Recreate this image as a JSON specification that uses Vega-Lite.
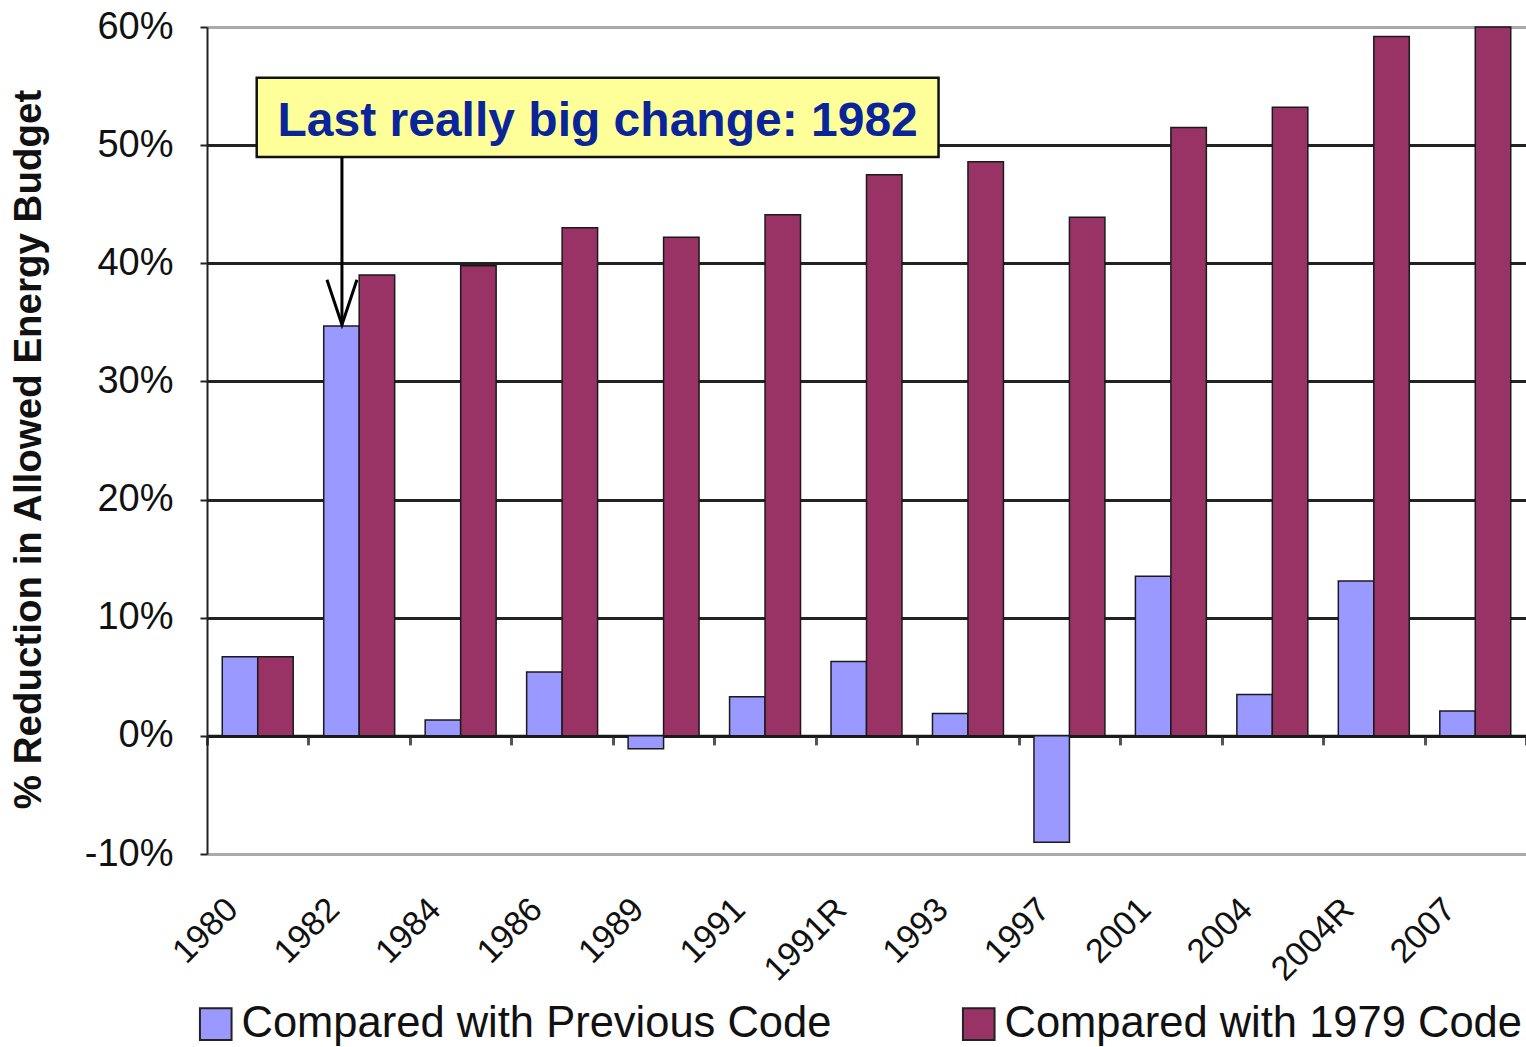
{
  "$schema": "https://vega.github.io/schema/vega-lite/v6.json",
  "width": 1319,
  "height": 827,
  "autosize": "none",
  "padding": {"left": 207, "top": 27, "right": 0, "bottom": 193},
  "background": "white",
  "config": {"view": {"stroke": null}, "font": "Liberation Sans"},
  "datasets": {
    "bars": [
      {"year": "1980", "series": "Compared with Previous Code", "value": 6.7},
      {"year": "1980", "series": "Compared with 1979 Code", "value": 6.7},
      {"year": "1982", "series": "Compared with Previous Code", "value": 34.7},
      {"year": "1982", "series": "Compared with 1979 Code", "value": 39.0},
      {"year": "1984", "series": "Compared with Previous Code", "value": 1.35},
      {"year": "1984", "series": "Compared with 1979 Code", "value": 39.8},
      {"year": "1986", "series": "Compared with Previous Code", "value": 5.4},
      {"year": "1986", "series": "Compared with 1979 Code", "value": 43.0},
      {"year": "1989", "series": "Compared with Previous Code", "value": -1.1},
      {"year": "1989", "series": "Compared with 1979 Code", "value": 42.2},
      {"year": "1991", "series": "Compared with Previous Code", "value": 3.3},
      {"year": "1991", "series": "Compared with 1979 Code", "value": 44.1},
      {"year": "1991R", "series": "Compared with Previous Code", "value": 6.3},
      {"year": "1991R", "series": "Compared with 1979 Code", "value": 47.5},
      {"year": "1993", "series": "Compared with Previous Code", "value": 1.9},
      {"year": "1993", "series": "Compared with 1979 Code", "value": 48.6},
      {"year": "1997", "series": "Compared with Previous Code", "value": -9.0},
      {"year": "1997", "series": "Compared with 1979 Code", "value": 43.9},
      {"year": "2001", "series": "Compared with Previous Code", "value": 13.5},
      {"year": "2001", "series": "Compared with 1979 Code", "value": 51.5},
      {"year": "2004", "series": "Compared with Previous Code", "value": 3.5},
      {"year": "2004", "series": "Compared with 1979 Code", "value": 53.2},
      {"year": "2004R", "series": "Compared with Previous Code", "value": 13.1},
      {"year": "2004R", "series": "Compared with 1979 Code", "value": 59.2},
      {"year": "2007", "series": "Compared with Previous Code", "value": 2.1},
      {"year": "2007", "series": "Compared with 1979 Code", "value": 60.0}
    ]
  },
  "layer": [
    {
      "data": {"name": "bars"},
      "layer": [
        {
          "mark": {"type": "bar", "stroke": "#1a1a1a", "strokeWidth": 1.5},
          "encoding": {
            "x": {
              "field": "year", "type": "nominal",
              "sort": ["1980","1982","1984","1986","1989","1991","1991R","1993","1997","2001","2004","2004R","2007"],
              "scale": {"paddingInner": 0, "paddingOuter": 0},
              "axis": {"orient": "bottom", "title": null, "domain": false, "ticks": false, "grid": false,
                       "labelAngle": -45, "labelFontSize": 34, "labelPadding": 38, "labelColor": "#111",
                       "labelAlign": "right", "labelBaseline": "top", "labelOffset": -37}
            },
            "xOffset": {
              "field": "series", "type": "nominal",
              "sort": ["Compared with Previous Code", "Compared with 1979 Code"],
              "scale": {"paddingOuter": 0.43, "paddingInner": 0}
            },
            "y": {
              "field": "value", "type": "quantitative",
              "scale": {"domain": [-10, 60], "nice": false, "zero": false},
              "axis": {
                "title": "% Reduction in Allowed Energy Budget",
                "titleFontSize": 38.5, "titleFontWeight": "bold", "titleColor": "#111", "titlePadding": 36,
                "titleY": 422,
                "values": [-10, 0, 10, 20, 30, 40, 50, 60],
                "labelExpr": "datum.value + '%'",
                "labelFontSize": 38, "labelColor": "#111", "labelPadding": 27,
                "tickSize": 7, "tickColor": "#222", "tickWidth": 2,
                "domainColor": "#222", "domainWidth": 2,
                "grid": true,
                "gridColor": {"condition": {"test": "datum.value == 60 || datum.value == -10", "value": "#aaaaaa"}, "value": "#222222"},
                "gridWidth": 3
              }
            },
            "color": {
              "field": "series", "type": "nominal",
              "scale": {"domain": ["Compared with Previous Code", "Compared with 1979 Code"], "range": ["#9999FF", "#993366"]},
              "legend": {
                "title": null, "orient": "none", "direction": "horizontal",
                "legendX": -13, "legendY": 975,
                "symbolType": "square", "symbolSize": 1000,
                "symbolStrokeColor": "#222", "symbolStrokeWidth": 2,
                "labelFontSize": 43.5, "labelColor": "#111", "labelLimit": 900,
                "columnPadding": 125, "labelOffset": 4
              }
            }
          }
        },
        {
          "mark": {"type": "point", "opacity": 0},
          "encoding": {
            "x": {
              "field": "year", "type": "nominal",
              "sort": ["1980","1982","1984","1986","1989","1991","1991R","1993","1997","2001","2004","2004R","2007"],
              "axis": {"orient": "bottom", "offset": -118.14, "title": null, "labels": false, "grid": false,
                       "domain": true, "domainColor": "#1a1a1a", "domainWidth": 3,
                       "ticks": true, "tickBand": "extent", "tickSize": 9, "tickColor": "#555", "tickWidth": 3}
            },
            "y": {"field": "value", "type": "quantitative"}
          }
        }
      ],
      "resolve": {"axis": {"x": "independent"}}
    },
    {
      "data": {"values": [{"label": "Last really big change: 1982"}]},
      "layer": [
        {
          "mark": {"type": "rect", "fill": "#FFFF99", "stroke": "#111", "strokeWidth": 2.5},
          "encoding": {
            "x": {"datum": 0.49, "type": "quantitative", "scale": {"domain": [0, 13], "nice": false, "zero": false}, "axis": null},
            "x2": {"datum": 7.21},
            "y": {"datum": 49.0, "type": "quantitative"},
            "y2": {"datum": 55.7}
          }
        },
        {
          "mark": {"type": "text", "fontSize": 48, "fontWeight": "bold", "color": "#0A249A", "align": "center", "baseline": "middle"},
          "encoding": {
            "x": {"datum": 3.85, "type": "quantitative"},
            "y": {"datum": 52.0, "type": "quantitative"},
            "text": {"field": "label"}
          }
        },
        {
          "mark": {"type": "rule", "color": "#000", "strokeWidth": 3},
          "encoding": {
            "x": {"datum": 1.33, "type": "quantitative"},
            "y": {"datum": 49.0, "type": "quantitative"},
            "y2": {"datum": 34.8}
          }
        },
        {
          "mark": {"type": "point", "shape": "M-0.333,-1L0,0L0.333,-1", "size": 8100, "filled": false, "stroke": "#000", "strokeWidth": 3, "opacity": 1},
          "encoding": {
            "x": {"datum": 1.33, "type": "quantitative"},
            "y": {"datum": 34.8, "type": "quantitative"}
          }
        }
      ]
    }
  ],
  "resolve": {"scale": {"x": "independent"}, "axis": {"x": "independent"}}
}
